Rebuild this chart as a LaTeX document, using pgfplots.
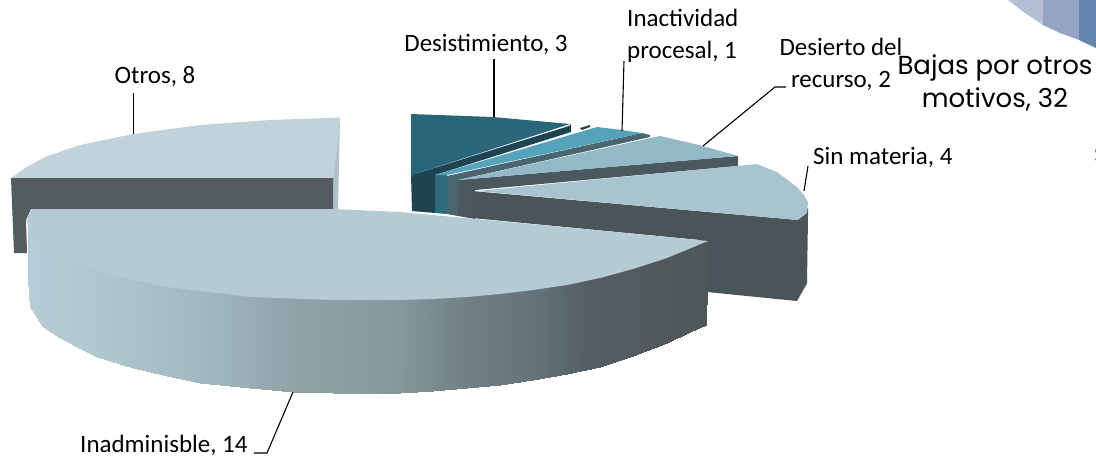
\documentclass[border=0pt]{standalone}
\usepackage{pgfplots}
\pgfplotsset{compat=1.18}
\usepackage{fontspec}
\setmainfont{Carlito}
\newfontfamily\bajas{Poppins}
\definecolor{otop}{HTML}{C0D2DA}
\definecolor{owall}{HTML}{545C5F}
\definecolor{osl}{HTML}{B0C2C8}
\definecolor{itop}{HTML}{B5CBD4}
\definecolor{dtop}{HTML}{2A6679}
\definecolor{dwall}{HTML}{1D4450}
\definecolor{actop}{HTML}{55A3BA}
\definecolor{acwall}{HTML}{2C6A7D}
\definecolor{acside}{HTML}{4A6470}
\definecolor{rtop}{HTML}{93B8C6}
\definecolor{rwall}{HTML}{4A5860}
\definecolor{stop}{HTML}{A8C4CF}
\definecolor{swall}{HTML}{4A5559}
\begin{document}
\begin{tikzpicture}
\begin{axis}[name=a,
  scale only axis, width=1096pt, height=459pt,
  xmin=0, xmax=1096, ymin=0, ymax=459, y dir=reverse,
  axis lines=none, clip=true,
  colormap={wall}{rgb255(28)=(181,205,214) rgb255(100)=(176,199,208) rgb255(200)=(163,185,193) rgb255(293)=(143,163,169) rgb255(400)=(133,152,157) rgb255(467)=(112,128,133) rgb255(533)=(100,115,122) rgb255(590)=(84,94,100) rgb255(708)=(79,86,88)},
  point meta min=28, point meta max=708,
]
% top-right fragment of the other chart
\addplot[fill={rgb,255:red,181;green,191;blue,211},draw=none] coordinates {(1008,0)(1025,13)(1043,25)(1043,0)} --cycle;
\addplot[fill={rgb,255:red,148;green,165;blue,195},draw=none] coordinates {(1043,0)(1043,25)(1060,33)(1079,40)(1079,0)} --cycle;
\addplot[fill={rgb,255:red,100;green,132;blue,176},draw=none] coordinates {(1079,0)(1079,40)(1096,48)(1096,0)} --cycle;
\addplot[color={rgb,255:red,250;green,250;blue,250},line width=1pt] coordinates {(812,225)(1096,225)};
% Otros
\addplot[fill=osl,draw=none] coordinates {(340,117)(338,209)(333,209)(333,178)} --cycle;
\addplot[fill=otop,draw=none] coordinates {(11,178)(25,168)(45,157)(80,145)(133,134)(200,125)(270,120)(340,117.5)(337,150)(333,178)} --cycle;
\addplot[fill=owall,draw=none] coordinates {(11,178)(333,178)(333,209)(31,209)(26,220)(27,253)(14,253)} --cycle;
% Desistimiento
\addplot[fill=dwall,draw=none] coordinates {(411,174)(415,174)(569,126)(571,124)(571,132)(435,175)(435,213)(412,211)} --cycle;
\addplot[fill=dtop,draw=none] coordinates {(411,114)(493,117)(570,124)(415,174)(411,178)} --cycle;
% Inactividad
\addplot[fill=dwall,draw=none] coordinates {(580,128)(590,125)(590,127)(582,130)} --cycle;
\addplot[fill=acwall,draw=none] coordinates {(435,175)(447,175)(447,214)(435,213)} --cycle;
\addplot[fill=acside,draw=none] coordinates {(642,133)(650,135)(650,137)(458,180)(458,216)(447,214)(447,176)} --cycle;
\addplot[fill=actop,draw=none] coordinates {(597,127)(622,130)(642,133)(447,175)(435,175)} --cycle;
% Desierto
\addplot[fill=rwall,draw=none] coordinates {(458,180)(738,156)(738,166)(475,190)(475,219)(458,216)} --cycle;
\addplot[fill=rtop,draw=none] coordinates {(660,136)(703,146)(738,156)(458,180)} --cycle;
% Sin materia
\addplot[fill=swall,draw=none] coordinates {(472,191)(798,220)(808,208)(808,217)(807,283)(805,287)(797,301)(707,292)(700,240)(472,218)} --cycle;
\addplot[fill=stop,draw=none] coordinates {(477,191)(757,164)(777,172)(797,187)(804,195)(808,202)(807,213)(798,220)} --cycle;
% Inadmisible wall
\addplot[surf, shader=interp, mesh/cols=24, mesh/ordering=x varies, point meta=x] table {
x y
28 225
30 232
43 243
60 252
83 261
97 265
133 275
167 282
200 286
250 292
293 295
333 295
367 295
400 295
433 294
467 292
500 289
533 285
567 280
600 273
633 264
667 253
690 245
708 241
28 280
30 307
43 327
60 338
83 350
97 357
133 368
167 376
200 383
250 388
293 392
333 393
367 393.5
400 393
433 391
467 388
500 384.5
533 380
567 374
600 367
633 356
667 343
690 332
706 325
};
\addplot[fill=itop,draw=none] coordinates {(31,209)(333,209)(400,212)(573,228)(708,241)(667,258)(633,269)(600,278)(567,285)(533,290)(500,294)(467,297)(433,299)(400,300)(333,300)(250,297)(200,291)(167,287)(133,280)(97,270)(60,257)(30,237)(27,220)} --cycle;
% leader lines
\addplot[black,line width=1.1pt] coordinates {(133.5,134)(133.5,93)};
\addplot[black,line width=1.1pt] coordinates {(494,117)(494,59)};
\addplot[black,line width=1.1pt] coordinates {(622,131)(624,61)};
\addplot[black,line width=1.1pt] coordinates {(703,146)(775,87)(786,87)};
\addplot[black,line width=1.1pt] coordinates {(804,191)(808,166)};
\addplot[black,line width=1.1pt] coordinates {(293,392)(267,453)(254,453)};
% labels
\tikzset{lab/.style={font=\fontsize{25}{32}\selectfont,inner sep=0pt,align=center,anchor=center}}
\node[lab] at (axis cs:155,77) {Otros, 8};
\node[lab] at (axis cs:486,44) {Desistimiento, 3};
\node[lab,anchor=west,align=left] at (axis cs:627,36) {Inactividad\\procesal, 1};
\node[lab] at (axis cs:841,64) {Desierto del\\recurso, 2};
\node[lab,anchor=west] at (axis cs:813,157) {Sin materia, 4};
\node[lab,anchor=west] at (axis cs:80,445) {Inadminisble, 14};
\node[font=\bajas\fontsize{26}{33}\selectfont,inner sep=0pt,align=center] at (axis cs:995,83) {Bajas por otros\\motivos, 32};
\node[font=\bajas\fontsize{24}{33}\selectfont,inner sep=0pt,anchor=west] at (axis cs:1094,155) {S};
\end{axis}
\pgfresetboundingbox
\path[use as bounding box] (a.south west) rectangle (a.north east);
\end{tikzpicture}
\end{document}
